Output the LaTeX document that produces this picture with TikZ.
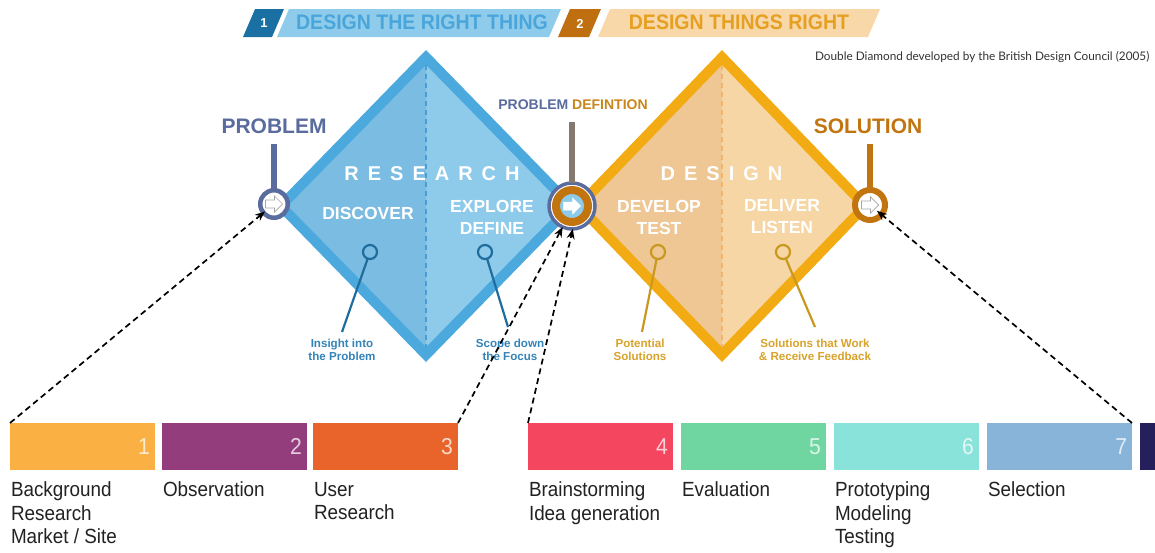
\documentclass[tikz,border=0pt]{standalone}
\usepackage{fontspec}
\setmainfont{Liberation Sans}
\newfontfamily\condfont[FakeStretch=0.92]{Liberation Sans}
\newfontfamily\headfont[FakeStretch=0.93]{Liberation Sans}
\newfontfamily\spacedfont[LetterSpace=45]{Liberation Sans}
\newfontfamily\creditfont{Lato}
\usetikzlibrary{arrows.meta,calc}

\definecolor{hdrblue}{HTML}{1B70A3}
\definecolor{hdrbluelt}{HTML}{8FCCEC}
\definecolor{hdrbluetxt}{HTML}{4AA6DA}
\definecolor{hdrbrown}{HTML}{BF6F10}
\definecolor{hdrorangelt}{HTML}{F8D8A9}
\definecolor{hdrorangetxt}{HTML}{E6A021}
\definecolor{blueedge}{HTML}{4CA9DE}
\definecolor{bluefillL}{HTML}{7BBCE2}
\definecolor{bluefillR}{HTML}{8ECBEB}
\definecolor{bluedashc}{HTML}{4A9ED3}
\definecolor{orangeedge}{HTML}{F3AB14}
\definecolor{orangefillL}{HTML}{EEC794}
\definecolor{orangefillR}{HTML}{F6D6A4}
\definecolor{orangedashc}{HTML}{F2B36A}
\definecolor{slate}{HTML}{5A6B9E}
\definecolor{rust}{HTML}{C2740E}
\definecolor{defcol}{HTML}{C8861C}
\definecolor{stemgrey}{HTML}{85786E}
\definecolor{pinblue}{HTML}{1F6D9D}
\definecolor{pinbluetxt}{HTML}{3384B8}
\definecolor{pingold}{HTML}{C9991F}
\definecolor{pingoldtxt}{HTML}{D8A32A}
\definecolor{s1}{HTML}{FBB043}
\definecolor{s2}{HTML}{933D7D}
\definecolor{s3}{HTML}{E9642A}
\definecolor{s4}{HTML}{F5465F}
\definecolor{s5}{HTML}{6FD5A1}
\definecolor{s6}{HTML}{8AE3DA}
\definecolor{s7}{HTML}{88B4D9}
\definecolor{s8}{HTML}{25205C}
\definecolor{labelgrey}{HTML}{222222}
\definecolor{creditgrey}{HTML}{333333}

\tikzset{
  every node/.style={inner sep=0pt, outer sep=0pt},
  banner/.style={font=\headfont\bfseries\fontsize{21}{23}\selectfont},
  bannernum/.style={font=\bfseries\fontsize{13}{15}\selectfont, text=white},
  phase/.style={font=\spacedfont\bfseries\fontsize{20}{22}\selectfont, text=white},
  activity/.style={font=\bfseries\fontsize{17.5}{22}\selectfont, text=white, align=center},
  milestone/.style={font=\bfseries\fontsize{21}{24}\selectfont},
  ring/.style={circle, minimum size=#1, inner sep=0pt},
  pin/.style={circle, draw=#1, line width=2.2pt, minimum size=14pt},
  pinlabel/.style={font=\bfseries\fontsize{11.6}{13}\selectfont, align=center},
  stepbar/.style={fill=#1, minimum width=145pt, minimum height=47pt, anchor=north west},
  stepnum/.style={font=\condfont\fontsize{23}{25}\selectfont, text=white, text opacity=0.75, anchor=east, xshift=-5pt},
  steplabel/.style={font=\condfont\fontsize{20.5}{23.5}\selectfont, text=labelgrey, align=left, anchor=north west},
  link/.style={dash pattern=on 6pt off 4pt, line width=1.7pt, black, -{Stealth[length=10pt,width=8pt]}},
  pics/rarrow/.style={code={\draw[#1] (-8.5,-4) -- (0.5,-4) -- (0.5,-8) -- (8.5,0) -- (0.5,8) -- (0.5,4) -- (-8.5,4) -- cycle;}}
}

\begin{document}
\begin{tikzpicture}[x=1pt,y=-1pt]
\useasboundingbox (0,0) rectangle (1155,552);
\fill[white] (0,0) rectangle (1155,552);

% ---- header banners ----
\fill[hdrblue] (243,37) -- (255,9) -- (284,9) -- (272,37) -- cycle;
\fill[hdrbluelt] (277,37) -- (289,9) -- (561,9) -- (549,37) -- cycle;
\fill[hdrbrown] (558,37) -- (570,9) -- (601,9) -- (589,37) -- cycle;
\fill[hdrorangelt] (598,37) -- (610,9) -- (880,9) -- (868,37) -- cycle;
\node[bannernum] (hn1) at (264,23.5) {1};
\node[bannernum] (hn2) at (580,23.5) {2};
\node[banner, text=hdrbluetxt] (h1) at (422,22) {DESIGN THE RIGHT THING};
\node[banner, text=hdrorangetxt] (h2) at (739,22) {DESIGN THINGS RIGHT};

\node[font=\creditfont\fontsize{11.8}{13}\selectfont, text=creditgrey, anchor=west] (credit) at (815,57)
  {Double Diamond developed by the British Design Council (2005)};

% ---- research diamond ----
\fill[blueedge] (426,50) -- (578,206) -- (426,362) -- (274,206) -- cycle;
\fill[bluefillL] (426,65) -- (426,347) -- (288,206) -- cycle;
\fill[bluefillR] (426,65) -- (426,347) -- (564,206) -- cycle;
\draw[bluedashc, line width=1.2pt, dash pattern=on 5pt off 4pt] (426,65) -- (426,347);

% ---- design diamond ----
\fill[orangeedge] (722,50) -- (872,206) -- (722,362) -- (572,206) -- cycle;
\fill[orangefillL] (722,65) -- (722,347) -- (586,206) -- cycle;
\fill[orangefillR] (722,65) -- (722,347) -- (858,206) -- cycle;
\draw[orangedashc, line width=1.2pt, dash pattern=on 5pt off 4pt] (722,65) -- (722,347);

% ---- phase and activity texts ----
\node[phase] (research) at (427.5,174) {RESEARCH\kern-9pt};
\node[phase] (design) at (717,174) {DESIGN\kern-9pt};
\node[activity] (discover) at (368,213) {DISCOVER};
\node[activity] (explore) at (492,217) {EXPLORE\\DEFINE};
\node[activity] (develop) at (659,217) {DEVELOP\\TEST};
\node[activity] (deliver) at (782,217) {DELIVER\\LISTEN};

% ---- milestones ----
\node[milestone, text=slate] (problem) at (274,126) {PROBLEM};
\node[font=\bfseries\fontsize{14}{16}\selectfont] (pdef) at (573,105)
  {\textcolor{slate}{PROBLEM} \textcolor{defcol}{DEFINTION}};
\node[milestone, text=rust] (solution) at (868,126) {SOLUTION};

\coordinate (ptop) at (274,144);
\coordinate (pdtop) at (572,122);
\coordinate (stop) at (870,144);

\node[ring=27.5pt, draw=slate, line width=4.5pt, fill=white] (pcirc) at (274,204) {};
\draw[slate, line width=5.5pt] (ptop) -- (pcirc.north);
\pic at (pcirc.center) {rarrow={fill=white, draw=gray!70, line width=0.7pt}};

\node[ring=46pt, draw=slate, line width=3.5pt, fill=white] (pdring) at (572,206) {};
\node[ring=32pt, draw=rust, line width=8pt, fill=bluefillR] (pd) at (572,206) {};
\draw[stemgrey, line width=5.5pt] (pdtop) -- (pdring.north);
\pic at (pd.center) {rarrow={fill=white, draw=white, line width=0.5pt}};

\node[ring=30pt, draw=rust, line width=6pt, fill=white] (scirc) at (870,205) {};
\draw[rust, line width=5.5pt] (stop) -- (scirc.north);
\pic at (scirc.center) {rarrow={fill=white, draw=gray!70, line width=0.7pt}};

% ---- pins and their notes ----
\node[pin=pinblue] (pin1) at (370,252) {};
\node[pin=pinblue] (pin2) at (485,252) {};
\node[pin=pingold] (pin3) at (658,252) {};
\node[pin=pingold] (pin4) at (783,252) {};
\coordinate (pin1end) at (342,332);
\coordinate (pin2end) at (508,327);
\coordinate (pin3end) at (642,332);
\coordinate (pin4end) at (815,327);
\draw[pinblue, line width=2.2pt] (pin1) -- (pin1end);
\draw[pinblue, line width=2.2pt] (pin2) -- (pin2end);
\draw[pingold, line width=2.2pt] (pin3) -- (pin3end);
\draw[pingold, line width=2.2pt] (pin4) -- (pin4end);
\node[pinlabel, text=pinbluetxt] (note1) at (342,350) {Insight into\\the Problem};
\node[pinlabel, text=pinbluetxt] (note2) at (510,350) {Scope down\\the Focus};
\node[pinlabel, text=pingoldtxt] (note3) at (640,350) {Potential\\Solutions};
\node[pinlabel, text=pingoldtxt] (note4) at (815,350) {Solutions that Work\\\& Receive Feedback};

% ---- process steps ----
\node[stepbar=s1] (b1) at (10,423) {};
\node[stepbar=s2] (b2) at (162,423) {};
\node[stepbar=s3] (b3) at (313,423) {};
\node[stepbar=s4] (b4) at (528,423) {};
\node[stepbar=s5] (b5) at (681,423) {};
\node[stepbar=s6] (b6) at (834,423) {};
\node[stepbar=s7] (b7) at (987,423) {};
\node[stepbar=s8] (b8) at (1140,423) {};

\node[stepnum] (n1) at (b1.east) {1};
\node[stepnum] (n2) at (b2.east) {2};
\node[stepnum] (n3) at (b3.east) {3};
\node[stepnum] (n4) at (b4.east) {4};
\node[stepnum] (n5) at (b5.east) {5};
\node[stepnum] (n6) at (b6.east) {6};
\node[stepnum] (n7) at (b7.east) {7};

\node[steplabel] (l1) at (11,482) {Background\\Research\\Market / Site};
\node[steplabel] (l2) at (163,482) {Observation};
\node[steplabel] (l3) at (314,482) {User\\Research};
\node[steplabel] (l4) at (529,482) {Brainstorming\\Idea generation};
\node[steplabel] (l5) at (682,482) {Evaluation};
\node[steplabel] (l6) at (835,482) {Prototyping\\Modeling\\Testing};
\node[steplabel] (l7) at (988,482) {Selection};

% ---- links from steps to milestones ----
\draw[link, shorten >=-2pt] (b1.north west) -- (pcirc);
\draw[link] (b3.north east) -- (pdring.246);
\draw[link] (b4.north west) -- (pdring.272);
\draw[link, shorten >=-6pt] (b7.north east) -- (scirc);
\end{tikzpicture}
\end{document}
